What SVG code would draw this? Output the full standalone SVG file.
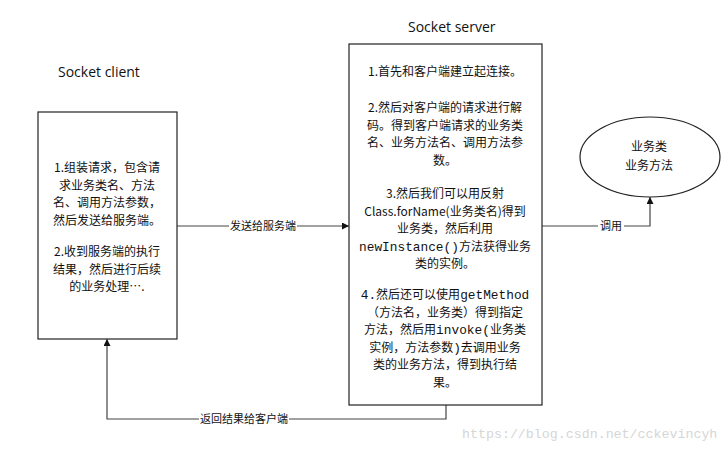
<svg xmlns="http://www.w3.org/2000/svg" width="728" height="450" viewBox="0 0 728 450">
<style>
.cjk{font-family:"Noto Sans CJK SC","Noto Sans",sans-serif;font-size:12px;fill:#111;text-anchor:middle}
.mono{font-family:"Liberation Mono","DejaVu Sans Mono",monospace;font-size:12.8px}
.title{font-family:"Open Sans","Noto Sans",sans-serif;font-size:14px;fill:#111}
.lbl{font-family:"Noto Sans CJK SC",sans-serif;font-size:11px;fill:#111;text-anchor:middle}
.box{fill:#fff;stroke:#222;stroke-width:1.2}
.conn{fill:none;stroke:#444;stroke-width:1.2}
.bg{fill:#fff}
</style>
<defs>
<marker id="arr" viewBox="0 0 10 10" refX="10" refY="5" markerWidth="7" markerHeight="7" orient="auto" markerUnits="userSpaceOnUse">
<path d="M0,0 L10,5 L0,10 z" fill="#111"/>
</marker>
</defs>
<rect width="728" height="450" fill="#fff"/>
<text class="title" x="58" y="77">Socket client</text>
<text class="title" x="408" y="32">Socket server</text>
<g id="connectors">
<path class="conn" d="M177,226 L349,226" marker-end="url(#arr)"/>
<rect class="bg" x="229" y="219" width="68" height="14"/>
<text class="lbl" x="263" y="230">发送给服务端</text>
<path class="conn" d="M542,226 L650,226 L650,197" marker-end="url(#arr)"/>
<rect class="bg" x="598" y="219" width="26" height="14"/>
<text class="lbl" x="611" y="230">调用</text>
<path class="conn" d="M446,405 L446,419 L107,419 L107,339" marker-end="url(#arr)"/>
<rect class="bg" x="199" y="412" width="90" height="14"/>
<text class="lbl" x="244" y="423">返回结果给客户端</text>
</g>
<g id="client">
<rect class="box" x="38" y="112" width="139" height="227"/>
<text class="cjk" x="107" y="172">1.组装请求，包含请</text>
<text class="cjk" x="107" y="189.5">求业务类名、方法</text>
<text class="cjk" x="107" y="207">名、调用方法参数，</text>
<text class="cjk" x="107" y="224.5">然后发送给服务端。</text>
<text class="cjk" x="107" y="256">2.收到服务端的执行</text>
<text class="cjk" x="107" y="273.5">结果，然后进行后续</text>
<text class="cjk" x="107" y="291">的业务处理….</text>
</g>
<g id="server">
<rect class="box" x="349" y="44" width="193" height="361"/>
<text class="cjk" x="445" y="76">1.首先和客户端建立起连接。</text>
<text class="cjk" x="445" y="112">2.然后对客户端的请求进行解</text>
<text class="cjk" x="445" y="129.5">码。得到客户端请求的业务类</text>
<text class="cjk" x="445" y="147">名、业务方法名、调用方法参</text>
<text class="cjk" x="445" y="164.5">数。</text>
<text class="cjk" x="445" y="198">3.然后我们可以用反射</text>
<text class="cjk" x="445" y="215.5">Class.forName(业务类名)得到</text>
<text class="cjk" x="445" y="233">业务类，然后利用</text>
<text class="cjk" x="445" y="250.5"><tspan class="mono">newInstance()</tspan>方法获得业务</text>
<text class="cjk" x="445" y="268">类的实例。</text>
<text class="cjk" x="445" y="299"><tspan class="mono">4.</tspan>然后还可以使用<tspan class="mono">getMethod</tspan></text>
<text class="cjk" x="445" y="316.5">（方法名，业务类）得到指定</text>
<text class="cjk" x="445" y="334">方法，然后用<tspan class="mono">invoke(</tspan>业务类</text>
<text class="cjk" x="445" y="351.5">实例，方法参数<tspan class="mono">)</tspan>去调用业务</text>
<text class="cjk" x="445" y="369">类的业务方法，得到执行结</text>
<text class="cjk" x="445" y="386.5">果。</text>
</g>
<g id="business">
<ellipse class="box" cx="650" cy="157" rx="70" ry="40"/>
<text class="cjk" x="649" y="151">业务类</text>
<text class="cjk" x="649" y="170">业务方法</text>
</g>
<text x="462" y="438" font-family="Liberation Mono,monospace" font-size="13.3" fill="#d6d6d6">https://blog.csdn.net/cckevincyh</text>
</svg>
